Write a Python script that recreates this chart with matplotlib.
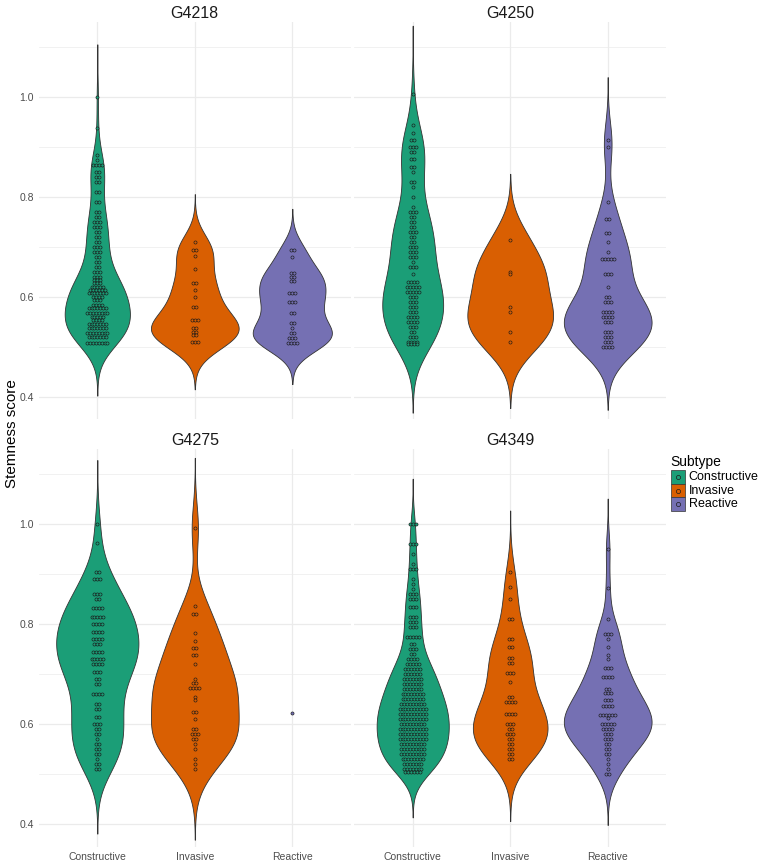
import numpy as np
import matplotlib
matplotlib.use('Agg')
import matplotlib.pyplot as plt
from matplotlib.patches import Rectangle

plt.rcParams['font.family'] = ['Liberation Sans', 'DejaVu Sans']

samples = ['G4218', 'G4250', 'G4275', 'G4349']
subtypes = ['Constructive', 'Invasive', 'Reactive']
colors = ['#1B9E77', '#D95F02', '#7570B3']

# stemness score of each dot stack (y) and number of dots in that stack (n)
g4218_con_y = [1.00, 0.937, 0.883, 0.873, 0.863, 0.85, 0.84, 0.83, 0.81, 0.79, 0.77, 0.76, 0.75, 0.74,
               0.73, 0.72, 0.71, 0.70, 0.69, 0.68, 0.67, 0.66, 0.65, 0.64, 0.633, 0.627, 0.62, 0.613,
               0.607, 0.60, 0.593, 0.583, 0.577, 0.567, 0.56, 0.553, 0.545, 0.537, 0.527, 0.52, 0.507]
g4218_con_n = [1, 1, 1, 1, 4, 2, 2, 2, 2, 2, 2, 2, 3, 3,
               2, 2, 2, 3, 3, 2, 2, 2, 3, 3, 3, 3, 5, 6,
               7, 4, 3, 4, 7, 8, 5, 4, 7, 7, 8, 7, 8]
g4218_inv_y = [0.71, 0.693, 0.681, 0.655, 0.627, 0.613, 0.60, 0.58, 0.553, 0.537, 0.53, 0.523, 0.51]
g4218_inv_n = [1, 2, 1, 1, 2, 1, 1, 2, 3, 2, 2, 2, 3]
g4218_rea_y = [0.693, 0.68, 0.647, 0.64, 0.632, 0.607, 0.59, 0.567, 0.548, 0.537, 0.528, 0.518, 0.508]
g4218_rea_n = [2, 1, 2, 2, 2, 3, 3, 2, 2, 1, 2, 3, 4]

g4250_con_y = [1.005, 0.943, 0.927, 0.914, 0.90, 0.89, 0.875, 0.86, 0.85, 0.83, 0.82, 0.80, 0.78, 0.77,
               0.76, 0.75, 0.74, 0.73, 0.72, 0.71, 0.70, 0.69, 0.68, 0.67, 0.66, 0.645, 0.63, 0.62,
               0.61, 0.60, 0.59, 0.58, 0.57, 0.56, 0.55, 0.54, 0.53, 0.52, 0.51, 0.505]
g4250_con_n = [1, 1, 1, 2, 3, 2, 2, 2, 1, 2, 1, 1, 1, 3,
               2, 2, 2, 3, 2, 2, 3, 3, 3, 1, 3, 1, 4, 5,
               5, 3, 3, 3, 3, 4, 4, 3, 2, 3, 4, 4]
g4250_inv_y = [0.713, 0.65, 0.645, 0.58, 0.57, 0.53, 0.51]
g4250_inv_n = [1, 1, 1, 1, 1, 1, 1]
g4250_rea_y = [0.913, 0.90, 0.79, 0.755, 0.727, 0.71, 0.69, 0.675, 0.645, 0.62, 0.60, 0.59, 0.57,
               0.56, 0.55, 0.53, 0.52, 0.51, 0.50]
g4250_rea_n = [1, 1, 1, 2, 2, 1, 1, 5, 3, 1, 2, 3, 4,
               4, 3, 3, 3, 3, 4]

g4275_con_y = [1.00, 0.962, 0.905, 0.89, 0.86, 0.85, 0.833, 0.815, 0.80, 0.785, 0.77, 0.76, 0.745, 0.73,
               0.72, 0.705, 0.69, 0.68, 0.66, 0.64, 0.63, 0.615, 0.60, 0.59, 0.58, 0.57, 0.56, 0.55,
               0.54, 0.53, 0.52, 0.51]
g4275_con_n = [1, 1, 2, 3, 3, 2, 4, 5, 4, 4, 4, 3, 4, 5,
               4, 3, 2, 2, 4, 2, 2, 2, 3, 2, 2, 1, 2, 2,
               2, 1, 2, 2]
g4275_inv_y = [0.992, 0.837, 0.82, 0.782, 0.767, 0.752, 0.739, 0.721, 0.69, 0.682, 0.672, 0.655, 0.649,
               0.625, 0.61, 0.59, 0.58, 0.57, 0.56, 0.55, 0.53, 0.52, 0.51]
g4275_inv_n = [1, 1, 2, 1, 1, 2, 2, 1, 1, 2, 4, 1, 1,
               2, 1, 2, 3, 2, 1, 1, 1, 1, 1]
g4275_rea_y = [0.622]
g4275_rea_n = [1]

g4349_con_y = [1.00, 0.96, 0.94, 0.92, 0.91, 0.89, 0.88, 0.87, 0.86, 0.85, 0.835, 0.815, 0.805, 0.795,
               0.775, 0.76, 0.75, 0.74, 0.73, 0.72, 0.71, 0.70, 0.69, 0.68, 0.67, 0.66, 0.65, 0.64,
               0.63, 0.62, 0.61, 0.60, 0.59, 0.58, 0.57, 0.56, 0.55, 0.54, 0.53, 0.52, 0.51, 0.505]
g4349_con_n = [3, 3, 1, 1, 3, 1, 1, 1, 3, 3, 3, 3, 3, 3,
               5, 2, 3, 2, 4, 5, 6, 6, 7, 7, 7, 8, 8, 9,
               10, 10, 10, 9, 10, 10, 10, 9, 9, 9, 8, 7, 7, 6]
g4349_inv_y = [0.904, 0.875, 0.851, 0.81, 0.77, 0.755, 0.732, 0.722, 0.702, 0.684, 0.655, 0.645, 0.62,
               0.60, 0.59, 0.58, 0.57, 0.56, 0.55, 0.54, 0.53]
g4349_inv_n = [1, 1, 1, 2, 2, 2, 2, 2, 3, 1, 2, 4, 4,
               3, 2, 3, 2, 2, 2, 2, 2]
g4349_rea_y = [0.95, 0.872, 0.81, 0.78, 0.77, 0.755, 0.739, 0.73, 0.712, 0.695, 0.67, 0.663, 0.649,
               0.637, 0.619, 0.613, 0.60, 0.59, 0.58, 0.57, 0.56, 0.55, 0.54, 0.53, 0.52, 0.51, 0.50]
g4349_rea_n = [1, 1, 1, 3, 1, 1, 1, 1, 3, 4, 2, 3, 3,
               4, 6, 1, 5, 4, 3, 3, 2, 2, 2, 1, 1, 1, 2]

groups = {
    'G4218': [(g4218_con_y, g4218_con_n), (g4218_inv_y, g4218_inv_n), (g4218_rea_y, g4218_rea_n)],
    'G4250': [(g4250_con_y, g4250_con_n), (g4250_inv_y, g4250_inv_n), (g4250_rea_y, g4250_rea_n)],
    'G4275': [(g4275_con_y, g4275_con_n), (g4275_inv_y, g4275_inv_n), (g4275_rea_y, g4275_rea_n)],
    'G4349': [(g4349_con_y, g4349_con_n), (g4349_inv_y, g4349_inv_n), (g4349_rea_y, g4349_rea_n)],
}


def kde_nrd0(vals):
    # gaussian density with R's default bandwidth, tails cut at 3 bandwidths
    vals = np.asarray(vals)
    q75, q25 = np.percentile(vals, [75, 25])
    lo = min(np.std(vals, ddof=1), (q75 - q25) / 1.34)
    bw = 0.9 * lo * len(vals) ** -0.2
    grid = np.linspace(vals.min() - 3 * bw, vals.max() + 3 * bw, 512)
    dens = np.exp(-0.5 * ((grid[:, None] - vals[None, :]) / bw) ** 2).sum(axis=1)
    dens /= len(vals) * bw * np.sqrt(2 * np.pi)
    return grid, dens


W, H = 768, 868
fig = plt.figure(figsize=(W / 100, H / 100), dpi=100)

ylim = (0.355, 1.15)
px_per_unit = 500
panel_w = 312
lefts = [38.8, 354.2, 38.8, 354.2]
one_px = [96.7, 96.7, 524.3, 524.3]
dot_step = 2.9 / (panel_w / 3.2)

for i, s in enumerate(samples):
    top = one_px[i] - (ylim[1] - 1) * px_per_unit
    h = (ylim[1] - ylim[0]) * px_per_unit
    ax = fig.add_axes([lefts[i] / W, 1 - (top + h) / H, panel_w / W, h / H])
    ax.set_xlim(0.4, 3.6)
    ax.set_ylim(*ylim)
    for sp in ax.spines.values():
        sp.set_visible(False)
    ax.set_yticks([0.4, 0.6, 0.8, 1.0])
    ax.set_yticks([0.5, 0.7, 0.9, 1.1], minor=True)
    ax.set_xticks([1, 2, 3])
    ax.grid(True, which='major', color='#EBEBEB', lw=0.9)
    ax.grid(True, which='minor', axis='y', color='#EBEBEB', lw=0.5)
    ax.set_axisbelow(True)
    ax.tick_params(which='both', length=0, labelsize=7.5, labelcolor='#4D4D4D')
    if i % 2 == 0:
        ax.set_yticklabels(['0.4', '0.6', '0.8', '1.0'])
    else:
        ax.set_yticklabels([])
    if i >= 2:
        ax.set_xticklabels(subtypes)
    else:
        ax.set_xticklabels([])
    ax.set_title(s, fontsize=11.5, color='#1A1A1A', pad=3)

    dens_list = []
    for y, n in groups[s]:
        vals = np.repeat(y, n)
        dens_list.append(kde_nrd0(vals) if len(vals) > 1 else None)
    dmax = max(d[1].max() for d in dens_list if d is not None)

    for j, (y, n) in enumerate(groups[s]):
        xc = j + 1
        if dens_list[j] is not None:
            grid, dens = dens_list[j]
            half = dens / dmax * 0.45
            ax.fill_betweenx(grid, xc - half, xc + half, facecolor=colors[j],
                             edgecolor='#333333', lw=0.6, zorder=2)
        xs, ys = [], []
        for yy, nn in zip(y, n):
            for k in range(nn):
                xs.append(xc + (k - (nn - 1) / 2) * dot_step)
                ys.append(yy)
        ax.scatter(xs, ys, s=5, facecolor=colors[j], edgecolor='#1A1A1A',
                   linewidths=0.45, zorder=3)

fig.text(12 / W, 1 - 434 / H, 'Stemness score', rotation=90, fontsize=11,
         ha='center', va='center', color='black')

# legend
lx, ly = 670, 462
fig.text(lx / W, 1 - ly / H, 'Subtype', fontsize=10, ha='left', va='center')
key = 13.5
for j, name in enumerate(subtypes):
    cy = ly + 15 + j * key
    fig.patches.append(Rectangle(((lx + 1) / W, 1 - (cy + key / 2) / H), key / W, key / H,
                                 transform=fig.transFigure, facecolor=colors[j],
                                 edgecolor='#333333', lw=0.5))
    fig.add_artist(plt.Line2D([(lx + 1 + key / 2) / W], [1 - cy / H], marker='o', ms=3,
                              mfc=colors[j], mec='#1A1A1A', mew=0.5, transform=fig.transFigure))
    fig.text((lx + key + 5) / W, 1 - cy / H, name, fontsize=9, ha='left', va='center')

fig.savefig('out.png', dpi=100)
